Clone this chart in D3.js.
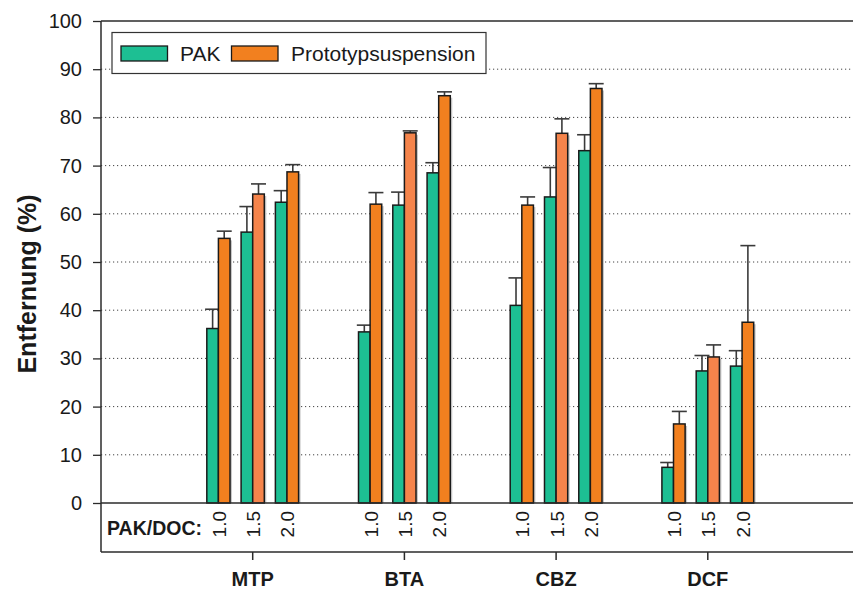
<!DOCTYPE html>
<html>
<head>
<meta charset="utf-8">
<script src="https://cdn.jsdelivr.net/npm/d3@7/dist/d3.min.js"></script>
<style>
  html, body { margin: 0; padding: 0; background: #fff; }
  svg { display: block; font-family: Arial, "Liberation Sans", sans-serif; }
</style>
</head>
<body>
<svg id="chart" width="853" height="590"></svg>
<script>
// ---- data ----
const categories = ["MTP", "BTA", "CBZ", "DCF"];
const ratios = ["1.0", "1.5", "2.0"];
const seriesNames = ["PAK", "Prototypsuspension"];
// values[category][ratio]
const pakValues = [
  [36.2, 56.2, 62.4],
  [35.5, 61.8, 68.5],
  [41.0, 63.5, 73.1],
  [7.4, 27.4, 28.4]
];
const pakErrors = [
  [4.0, 5.3, 2.4],
  [1.4, 2.7, 2.1],
  [5.7, 6.1, 3.3],
  [1.0, 3.2, 3.2]
];
const protoValues = [
  [54.9, 64.1, 68.7],
  [62.0, 76.8, 84.5],
  [61.8, 76.7, 86.0],
  [16.4, 30.3, 37.5]
];
const protoErrors = [
  [1.5, 2.1, 1.5],
  [2.4, 0.4, 0.8],
  [1.7, 3.0, 1.0],
  [2.6, 2.5, 15.9]
];
const yTicks = [0, 10, 20, 30, 40, 50, 60, 70, 80, 90, 100];

// ---- layout ----
const svg = d3.select("#chart");
const plotLeft = 101, plotTop = 21, base = 503, boxBottom = 552;
const y = d3.scaleLinear().domain([0, 100]).range([base, plotTop]);
const x = d3.scaleLinear().domain([0, 5]).range([plotLeft, 859.5]);
const ratioOffset = d3.scalePoint().domain(ratios).range([-0.226, 0.226]);
const barW = x(0.0765) - x(0);

const green = "#1dbf93";
const orange = "#f2801f";
const orangeLight = "#f5844b";
const axisColor = "#2b2b2b";

// gridlines (dotted)
svg.append("g").selectAll("line")
  .data(yTicks.filter(d => d > 0 && d < 100))
  .join("line")
  .attr("x1", plotLeft).attr("x2", 853)
  .attr("y1", d => y(d)).attr("y2", d => y(d))
  .attr("stroke", "#444").attr("stroke-width", 1)
  .attr("stroke-dasharray", "1.2,2.8");

// top frame line
svg.append("line").attr("x1", plotLeft).attr("x2", 853)
  .attr("y1", y(100)).attr("y2", y(100))
  .attr("stroke", axisColor).attr("stroke-width", 1.5);

// y axis
const yAxis = d3.axisLeft(y).tickValues(yTicks).tickSize(8).tickPadding(11);
const yg = svg.append("g").attr("transform", `translate(${plotLeft},0)`).call(yAxis);
yg.select(".domain").remove();
yg.selectAll(".tick line").attr("stroke", axisColor).attr("stroke-width", 1.3);
yg.selectAll(".tick text").attr("font-size", 20).attr("fill", "#1a1a1a")
  .attr("font-family", "Arial, 'Liberation Sans', sans-serif");
svg.append("line").attr("x1", plotLeft).attr("x2", plotLeft)
  .attr("y1", plotTop).attr("y2", boxBottom)
  .attr("stroke", axisColor).attr("stroke-width", 1.5);

// bars
const rows = [];
categories.forEach((c, ci) => {
  ratios.forEach((r, ri) => {
    rows.push({ c, ci, r, ri, s: 0, v: pakValues[ci][ri], e: pakErrors[ci][ri] });
    rows.push({ c, ci, r, ri, s: 1, v: protoValues[ci][ri], e: protoErrors[ci][ri] });
  });
});
const barX = d => x(d.ci + 1 + ratioOffset(d.r)) + (d.s === 0 ? -barW : 0);

// error bars (drawn behind bars)
const eg = svg.append("g");
eg.selectAll("line.v").data(rows).join("line").attr("class", "v")
  .attr("x1", d => barX(d) + barW / 2).attr("x2", d => barX(d) + barW / 2)
  .attr("y1", d => y(d.v)).attr("y2", d => y(d.v + d.e))
  .attr("stroke", "#3a3a3a").attr("stroke-width", 1.6);
eg.selectAll("line.cap").data(rows).join("line").attr("class", "cap")
  .attr("x1", d => barX(d) + barW / 2 - 7.5).attr("x2", d => barX(d) + barW / 2 + 7.5)
  .attr("y1", d => y(d.v + d.e)).attr("y2", d => y(d.v + d.e))
  .attr("stroke", "#3a3a3a").attr("stroke-width", 1.6);

// shadows
svg.append("g").selectAll("rect").data(rows.filter(d => d.s === 1)).join("rect")
  .attr("x", d => barX(d) + 2).attr("y", d => y(d.v) + 2)
  .attr("width", barW).attr("height", d => base - y(d.v) - 2)
  .attr("fill", "#c8c8c8");

svg.append("g").selectAll("rect").data(rows).join("rect")
  .attr("x", d => barX(d)).attr("y", d => y(d.v))
  .attr("width", barW).attr("height", d => base - y(d.v))
  .attr("fill", d => d.s === 0 ? green : (d.r === "1.5" ? orangeLight : orange))
  .attr("stroke", "#1a1a1a").attr("stroke-width", 1.5);

// baseline (0)
svg.append("line").attr("x1", plotLeft).attr("x2", 853)
  .attr("y1", base).attr("y2", base)
  .attr("stroke", axisColor).attr("stroke-width", 1.5);

// lower box
svg.append("line").attr("x1", plotLeft).attr("x2", 853)
  .attr("y1", boxBottom).attr("y2", boxBottom)
  .attr("stroke", axisColor).attr("stroke-width", 1.5);
svg.append("g").selectAll("line").data(categories).join("line")
  .attr("x1", (d, i) => x(i + 1)).attr("x2", (d, i) => x(i + 1))
  .attr("y1", boxBottom).attr("y2", boxBottom + 8)
  .attr("stroke", axisColor).attr("stroke-width", 1.5);

// ratio labels (rotated)
const rl = [];
categories.forEach((c, ci) => ratios.forEach(r => rl.push({ ci, r })));
svg.append("g").selectAll("text").data(rl).join("text")
  .attr("transform", d => `translate(${x(d.ci + 1 + ratioOffset(d.r)) + 1},511) rotate(-90)`)
  .attr("text-anchor", "end").attr("dominant-baseline", "central")
  .attr("font-size", 19).attr("fill", "#1a1a1a")
  .text(d => d.r);

svg.append("text").attr("x", 107).attr("y", 535)
  .attr("font-size", 19.5).attr("font-weight", "bold").attr("fill", "#1a1a1a")
  .text("PAK/DOC:");

// category labels
svg.append("g").selectAll("text").data(categories).join("text")
  .attr("x", (d, i) => x(i + 1)).attr("y", 585.5)
  .attr("text-anchor", "middle").attr("font-size", 20).attr("font-weight", "bold")
  .attr("fill", "#1a1a1a").text(d => d);

// y title
svg.append("text")
  .attr("transform", "translate(36,284) rotate(-90)")
  .attr("text-anchor", "middle").attr("font-size", 25).attr("font-weight", "bold")
  .attr("fill", "#1a1a1a").text("Entfernung (%)");

// legend
const lg = svg.append("g");
lg.append("rect").attr("x", 112).attr("y", 32.5).attr("width", 374).attr("height", 41)
  .attr("fill", "#fff").attr("stroke", "#333").attr("stroke-width", 1.2);
const legendItems = [
  { name: seriesNames[0], color: green, sx: 121, tx: 180 },
  { name: seriesNames[1], color: orange, sx: 231.5, tx: 291 }
];
lg.selectAll("rect.sw").data(legendItems).join("rect").attr("class", "sw")
  .attr("x", d => d.sx).attr("y", 46).attr("width", 46.5).attr("height", 15)
  .attr("fill", d => d.color).attr("stroke", "#1a1a1a").attr("stroke-width", 1.3);
lg.selectAll("text").data(legendItems).join("text")
  .attr("x", d => d.tx).attr("y", 61)
  .attr("font-size", 21).attr("fill", "#1a1a1a").text(d => d.name);
</script>
</body>
</html>
